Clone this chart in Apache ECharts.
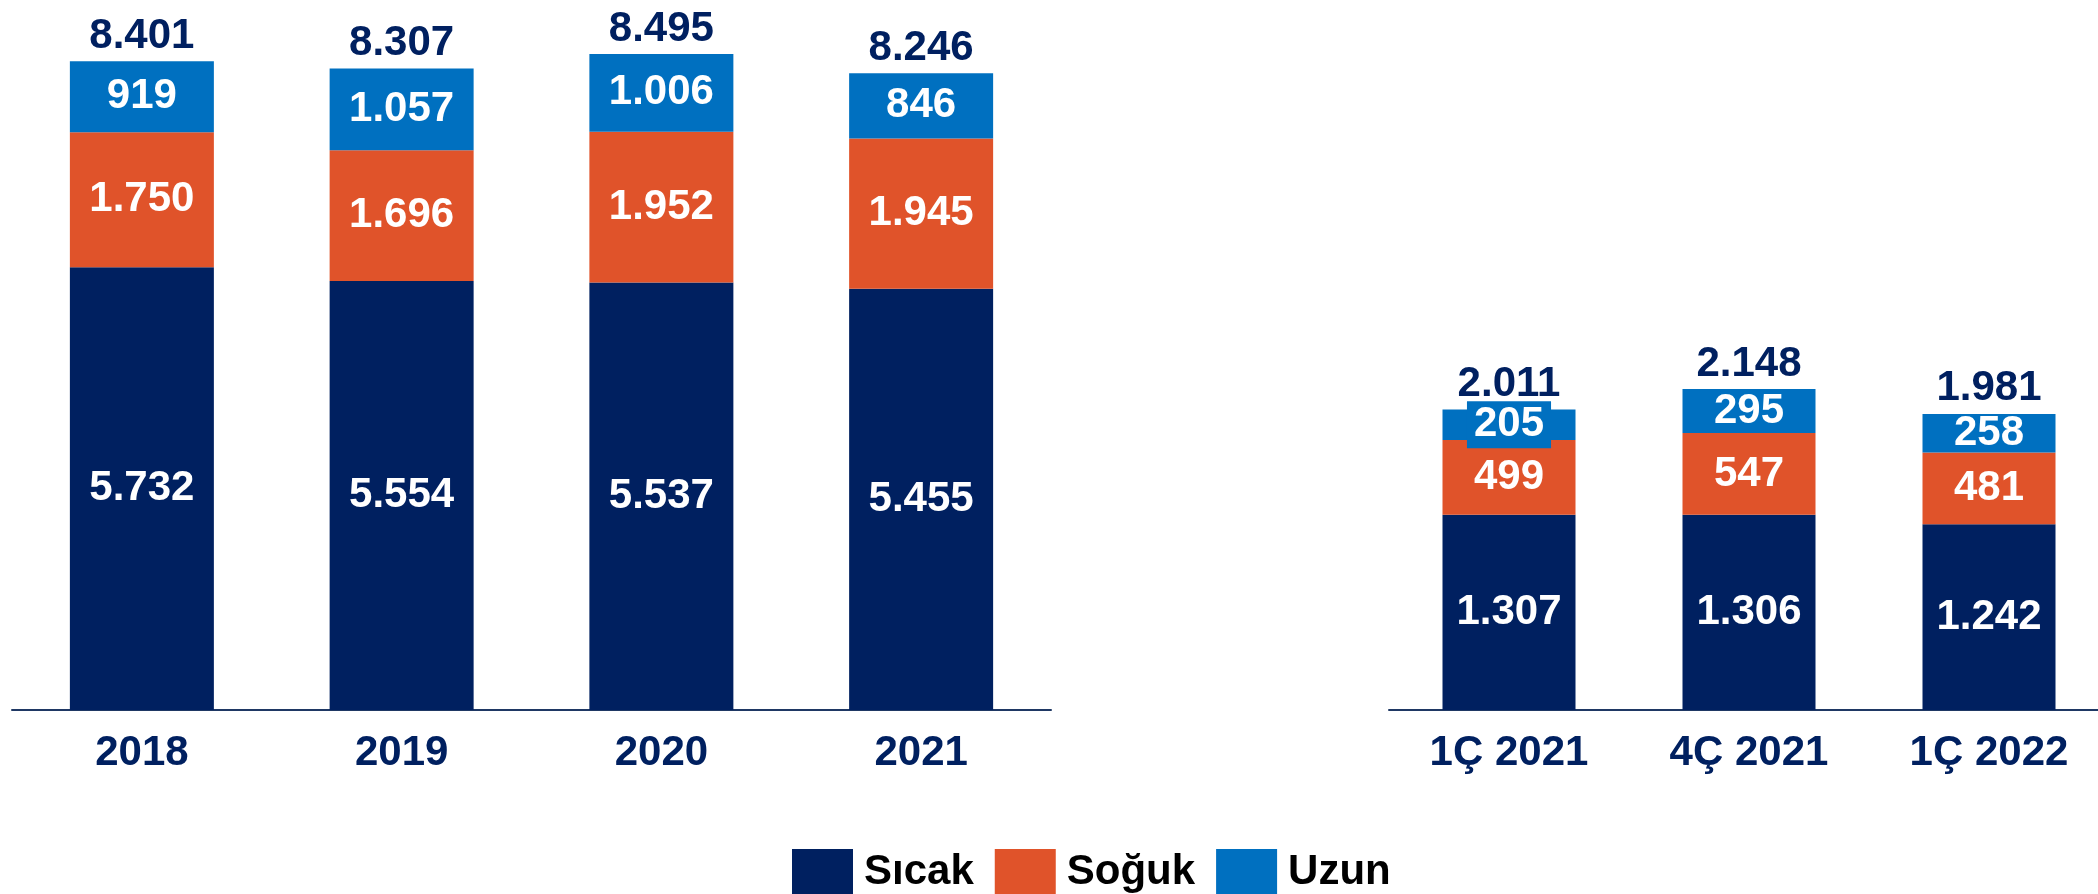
<!DOCTYPE html>
<html>
<head>
<meta charset="utf-8">
<script src="https://cdn.jsdelivr.net/npm/echarts@6/dist/echarts.min.js"></script>
<style>html,body{margin:0;padding:0;background:#fff;}#c{width:2098px;height:894px;}</style>
</head>
<body>
<div id="c"></div>
<script>
// ---- data ----
const yearCats = ['2018', '2019', '2020', '2021'];
const yearSicak = [5732, 5554, 5537, 5455];
const yearSoguk = [1750, 1696, 1952, 1945];
const yearUzun = [919, 1057, 1006, 846];

const qCats = ['1Ç 2021', '4Ç 2021', '1Ç 2022'];
const qSicak = [1307, 1306, 1242];
const qSoguk = [499, 547, 481];
const qUzun = [205, 295, 258];

const seriesNames = ['Sıcak', 'Soğuk', 'Uzun'];

// ---- style ----
const NAVY = '#002060', ORANGE = '#E0532A', BLUE = '#0070C0';
const FONT = '"Liberation Sans", Arial, sans-serif';
const FS = 42;
const fmt = v => String(v).replace(/\B(?=(\d{3})+(?!\d))/g, '.');

function sum(arrs) { return arrs[0].map((_, i) => arrs.reduce((s, a) => s + a[i], 0)); }
const yearTotal = sum([yearSicak, yearSoguk, yearUzun]);
const qTotal = sum([qSicak, qSoguk, qUzun]);

const insideLabel = {
  show: true, position: 'inside', color: '#fff', fontFamily: FONT, fontWeight: 'bold', fontSize: FS,
  formatter: p => fmt(p.value)
};
const totalLabel = {
  show: true, position: 'top', distance: 4, color: NAVY, fontFamily: FONT, fontWeight: 'bold', fontSize: FS,
  formatter: p => fmt(p.value)
};

function stackSeries(idx, stackName, values, color, barWidth, special) {
  return {
    name: seriesNames[idx], type: 'bar', stack: stackName, xAxisIndex: stackName === 'L' ? 0 : 1,
    yAxisIndex: stackName === 'L' ? 0 : 1, barWidth: barWidth,
    itemStyle: { color: color }, label: insideLabel,
    data: values.map((v, i) => (special && special[i]) ? { value: v, label: special[i] } : v),
    emphasis: { disabled: true }
  };
}
function totalSeries(stackName, totals, barWidth) {
  return {
    name: 'total' + stackName, type: 'bar', xAxisIndex: stackName === 'L' ? 0 : 1,
    yAxisIndex: stackName === 'L' ? 0 : 1, barWidth: barWidth, barGap: '-100%', z: 1,
    itemStyle: { color: 'rgba(0,0,0,0)' }, label: totalLabel, data: totals, silent: true,
    emphasis: { disabled: true }
  };
}

function xAxis(gridIndex, cats) {
  return {
    type: 'category', gridIndex: gridIndex, data: cats,
    axisLine: { show: true, lineStyle: { color: '#1F3864', width: 2 } },
    axisTick: { show: false },
    axisLabel: { color: NAVY, fontFamily: FONT, fontWeight: 'bold', fontSize: FS, margin: 22 }
  };
}

const option = {
  animation: false,
  backgroundColor: '#fff',
  grid: [
    { left: 12, top: 15, width: 1039, height: 695, outerBoundsMode: 'none', containLabel: false },
    { left: 1389, top: 15, width: 720, height: 695, outerBoundsMode: 'none', containLabel: false }
  ],
  xAxis: [xAxis(0, yearCats), xAxis(1, qCats)],
  yAxis: [
    { type: 'value', gridIndex: 0, min: 0, max: 9000, show: false },
    { type: 'value', gridIndex: 1, min: 0, max: 4650, show: false }
  ],
  legend: {
    data: seriesNames, left: 787, top: 844, itemWidth: 61, itemHeight: 46, itemGap: 21,
    icon: 'rect', selectedMode: false,
    textStyle: { color: '#000', fontFamily: FONT, fontWeight: 'bold', fontSize: 42, padding: [0, 0, 0, 6] }
  },
  series: [
    stackSeries(0, 'L', yearSicak, NAVY, 144),
    stackSeries(1, 'L', yearSoguk, ORANGE, 144),
    stackSeries(2, 'L', yearUzun, BLUE, 144),
    totalSeries('L', yearTotal, 144),
    stackSeries(0, 'R', qSicak, NAVY, 133),
    stackSeries(1, 'R', qSoguk, ORANGE, 133),
    stackSeries(2, 'R', qUzun, BLUE, 133, [{ backgroundColor: BLUE, padding: [3, 7, 2, 7] }, null, null]),
    totalSeries('R', qTotal, 133)
  ]
};

const chart = echarts.init(document.getElementById('c'), null, { renderer: 'canvas' });
chart.setOption(option);
</script>
</body>
</html>
